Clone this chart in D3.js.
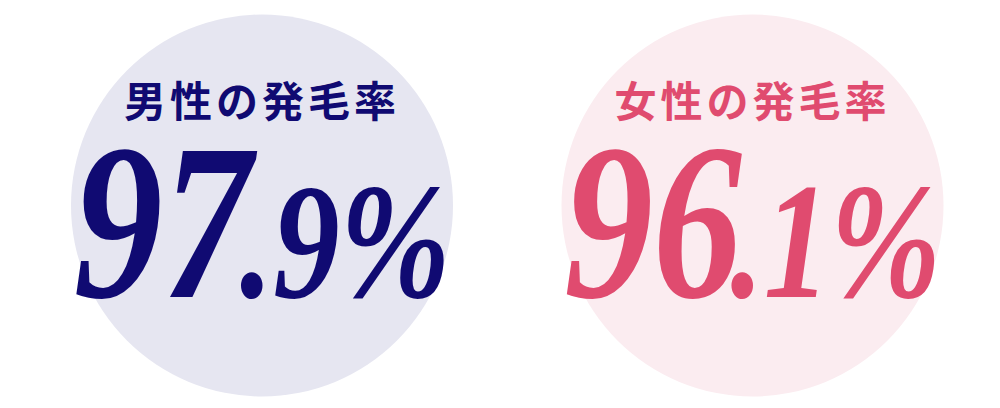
<!DOCTYPE html>
<html><head><meta charset="utf-8">
<script src="https://cdn.jsdelivr.net/npm/d3@7"></script>
<style>html,body{margin:0;padding:0;background:#fff;}svg{display:block;}</style>
</head><body>
<svg id="c" width="1000" height="408"></svg>
<script>
// data
const labels = ["男性の発毛率", "女性の発毛率"];
const values = [97.9, 96.1];
// styles
const inkColors = ["#100a72", "#e04b6f"];
const fillColors = ["#e6e6f1", "#fbecf0"];

const svg = d3.select("#c");
const x = d3.scalePoint().domain(labels).range([262, 752.5]);
const r = 191, cy = 205.5;
const fmt = d3.format(".1f");

const g = svg.selectAll("g.item").data(labels).join("g")
  .attr("class", "item")
  .attr("transform", d => `translate(${x(d)},0)`);

g.append("circle").attr("cx", 0).attr("cy", cy).attr("r", r)
  .attr("fill", (d, i) => fillColors[i]);

g.append("text")
  .attr("x", 0).attr("y", 98)
  .attr("text-anchor", "middle")
  .attr("dominant-baseline", "central")
  .attr("font-family", "'Noto Sans CJK JP', sans-serif")
  .attr("font-weight", 700)
  .attr("font-size", 42)
  .attr("letter-spacing", 4)
  .attr("fill", (d, i) => inkColors[i])
  .text(d => d);

const num = g.append("g").attr("class", "num");
const t = num.append("text")
  .attr("x", 0).attr("y", 297)
  .attr("font-family", "'Liberation Serif', 'Times New Roman', serif")
  .attr("font-weight", 700)
  .attr("font-style", "italic")
  .attr("fill", (d, i) => inkColors[i]);
t.append("tspan").attr("font-size", 222)
  .text((d, i) => fmt(values[i]).split(".")[0]);
t.append("tspan").attr("font-size", 166).attr("dx", -14)
  .text((d, i) => "." + fmt(values[i]).split(".")[1] + "%");

const sx = 0.8;
num.each(function () {
  const bb = this.getBBox();
  const cx = bb.x + bb.width / 2;
  d3.select(this).attr("transform", `translate(${-cx * sx},0) scale(${sx},1)`);
});
</script>
</body></html>
